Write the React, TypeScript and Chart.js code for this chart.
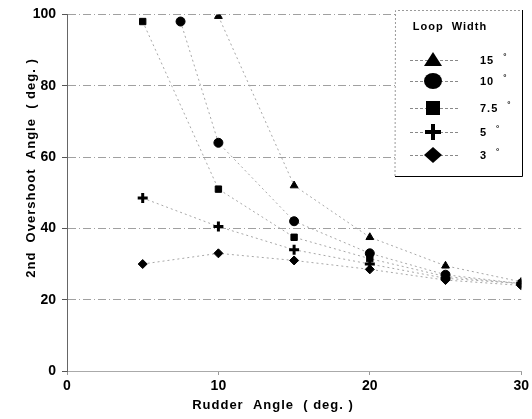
import React, { useEffect, useRef } from "react";
import { Chart, registerables } from "chart.js";

Chart.register(...registerables);

const xTicks = [0, 10, 20, 30];
const yTicks = [0, 20, 40, 60, 80, 100];
const seriesLabels = ["15 °", "10 °", "7.5 °", "5 °", "3 °"];
const loop15 = [
  { x: 10, y: 99.5 },
  { x: 15, y: 52 },
  { x: 20, y: 37.5 },
  { x: 25, y: 29.5 },
  { x: 30, y: 25 },
];
const loop10 = [
  { x: 7.5, y: 98 },
  { x: 10, y: 64 },
  { x: 15, y: 42 },
  { x: 20, y: 33 },
  { x: 25, y: 27 },
  { x: 30, y: 24.5 },
];
const loop75 = [
  { x: 5, y: 98 },
  { x: 10, y: 51 },
  { x: 15, y: 37.5 },
  { x: 20, y: 31.5 },
  { x: 25, y: 26.5 },
  { x: 30, y: 24.5 },
];
const loop5 = [
  { x: 5, y: 48.5 },
  { x: 10, y: 40.5 },
  { x: 15, y: 34 },
  { x: 20, y: 30 },
  { x: 25, y: 26 },
  { x: 30, y: 24.5 },
];
const loop3 = [
  { x: 5, y: 30 },
  { x: 10, y: 33 },
  { x: 15, y: 31 },
  { x: 20, y: 28.5 },
  { x: 25, y: 25.5 },
  { x: 30, y: 24 },
];

const seriesData = [loop15, loop10, loop75, loop5, loop3];
const pointStyles = ["triangle", "circle", "rect", "cross", "rectRot"];
const FONT = "'Liberation Sans', Arial, sans-serif";

function drawMarker(ctx: CanvasRenderingContext2D, style: string, x: number, y: number) {
  ctx.save();
  ctx.fillStyle = "#000";
  ctx.strokeStyle = "#000";
  ctx.beginPath();
  if (style === "triangle") {
    ctx.moveTo(x, y - 8);
    ctx.lineTo(x + 9, y + 6);
    ctx.lineTo(x - 9, y + 6);
    ctx.closePath();
    ctx.fill();
  } else if (style === "circle") {
    ctx.ellipse(x, y, 9, 8, 0, 0, Math.PI * 2);
    ctx.fill();
  } else if (style === "rect") {
    ctx.rect(x - 7, y - 7, 14, 14);
    ctx.fill();
  } else if (style === "cross") {
    ctx.lineWidth = 4;
    ctx.moveTo(x - 8, y);
    ctx.lineTo(x + 8, y);
    ctx.moveTo(x, y - 8);
    ctx.lineTo(x, y + 8);
    ctx.stroke();
  } else {
    ctx.moveTo(x, y - 8);
    ctx.lineTo(x + 9, y);
    ctx.lineTo(x, y + 8);
    ctx.lineTo(x - 9, y);
    ctx.closePath();
    ctx.fill();
  }
  ctx.restore();
}

const customPlugin = {
  id: "custom",
  afterDraw(chart: any) {
    const ctx: any = chart.ctx;
    ctx.save();
    // axis titles
    ctx.fillStyle = "#000";
    ctx.font = `bold 13px ${FONT}`;
    ctx.letterSpacing = "1px";
    ctx.textAlign = "center";
    ctx.textBaseline = "middle";
    ctx.fillText("Rudder  Angle  ( deg. )", 273, 405);
    ctx.save();
    ctx.translate(31, 168);
    ctx.rotate(-Math.PI / 2);
    ctx.fillText("2nd  Overshoot  Angle  ( deg. )", 0, 0);
    ctx.restore();

    // legend box
    const bx = 395, by = 10, bw = 127, bh = 166;
    ctx.fillStyle = "#fff";
    ctx.fillRect(bx, by, bw, bh);
    ctx.strokeStyle = "#000";
    ctx.lineWidth = 1;
    ctx.beginPath();
    ctx.moveTo(bx + bw + 0.5, by);
    ctx.lineTo(bx + bw + 0.5, by + bh + 0.5);
    ctx.lineTo(bx, by + bh + 0.5);
    ctx.stroke();
    ctx.strokeStyle = "#999";
    ctx.setLineDash([2, 2]);
    ctx.beginPath();
    ctx.moveTo(bx, by + bh);
    ctx.lineTo(bx + 0.5, by + 0.5);
    ctx.lineTo(bx + bw, by + 0.5);
    ctx.stroke();
    ctx.setLineDash([]);

    ctx.fillStyle = "#000";
    ctx.font = `bold 11px ${FONT}`;
    ctx.letterSpacing = "1px";
    ctx.textAlign = "center";
    ctx.fillText("Loop  Width", 450, 27);

    const rows = [60, 81, 108, 132, 155];
    seriesLabels.forEach((lab, i) => {
      const y = rows[i];
      ctx.strokeStyle = "#888";
      ctx.lineWidth = 1;
      ctx.setLineDash([3, 2]);
      ctx.beginPath();
      ctx.moveTo(410, y + 0.5);
      ctx.lineTo(460, y + 0.5);
      ctx.stroke();
      ctx.setLineDash([]);
      drawMarker(ctx, pointStyles[i], 433, y);
      ctx.fillStyle = "#000";
      ctx.font = `bold 11px ${FONT}`;
      ctx.letterSpacing = "1px";
      ctx.textAlign = "left";
      const [num] = lab.split(" ");
      ctx.fillText(num, 480, y + 1);
      const w = ctx.measureText(num).width;
      ctx.font = `bold 8px ${FONT}`;
      ctx.fillText("°", 480 + w + 9, y - 3);
    });
    ctx.letterSpacing = "0px";
    ctx.restore();
  },
};

export default function App() {
  const ref = useRef<HTMLCanvasElement | null>(null);
  useEffect(() => {
    if (!ref.current) return;
    const chart = new Chart(ref.current, {
      type: "scatter",
      data: {
        datasets: seriesData.map((d, i) => ({
          label: seriesLabels[i],
          data: d,
          showLine: true,
          borderColor: "#a8a8a8",
          borderWidth: 1,
          borderDash: [2, 3],
          backgroundColor: "#000",
          pointBackgroundColor: "#000",
          pointBorderColor: "#000",
          pointBorderWidth: pointStyles[i] === "cross" ? 3 : 1,
          pointStyle: pointStyles[i] as any,
          pointRadius: pointStyles[i] === "cross" ? 5 : 4.5,
          tension: 0,
        })),
      },
      options: {
        animation: false,
        responsive: false,
        maintainAspectRatio: false,
        layout: { padding: { top: 11, right: 7, left: 0, bottom: 0 } },
        plugins: {
          legend: { display: false },
          tooltip: { enabled: false },
        },
        scales: {
          x: {
            type: "linear",
            min: 0,
            max: 30,
            afterBuildTicks: (s: any) => {
              s.ticks = xTicks.map((v) => ({ value: v }));
            },
            afterFit: (s: any) => {
              s.height = 48;
            },
            ticks: {
              color: "#000",
              font: { family: FONT, weight: "bold", size: 14 },
              padding: 3,
              maxRotation: 0,
            },
            grid: { display: true, drawOnChartArea: false, color: "#999", tickLength: 4 },
            border: { display: true, color: "#aaa", width: 1, dash: [2, 3] },
          },
          y: {
            type: "linear",
            min: 0,
            max: 100,
            afterBuildTicks: (s: any) => {
              s.ticks = yTicks.map((v) => ({ value: v }));
            },
            afterFit: (s: any) => {
              s.width = 67;
            },
            ticks: {
              color: "#000",
              font: { family: FONT, weight: "bold", size: 14 },
              padding: 6,
            },
            grid: {
              color: (c: any) => (c.tick && c.tick.value === 0 ? "rgba(0,0,0,0)" : "#a0a0a0"),
              lineWidth: 1,
              tickLength: 5,
              tickColor: "#555",
            },
            border: { display: true, color: "#666", width: 1, dash: [8, 3, 1, 3] },
          },
        },
      },
      plugins: [customPlugin],
    });
    return () => chart.destroy();
  }, []);
  return (
    <div style={{ position: "absolute", left: 0, top: 0, width: 532, height: 419, background: "#fff" }}>
      <canvas ref={ref} width={532} height={419} style={{ width: 532, height: 419 }} />
    </div>
  );
}
